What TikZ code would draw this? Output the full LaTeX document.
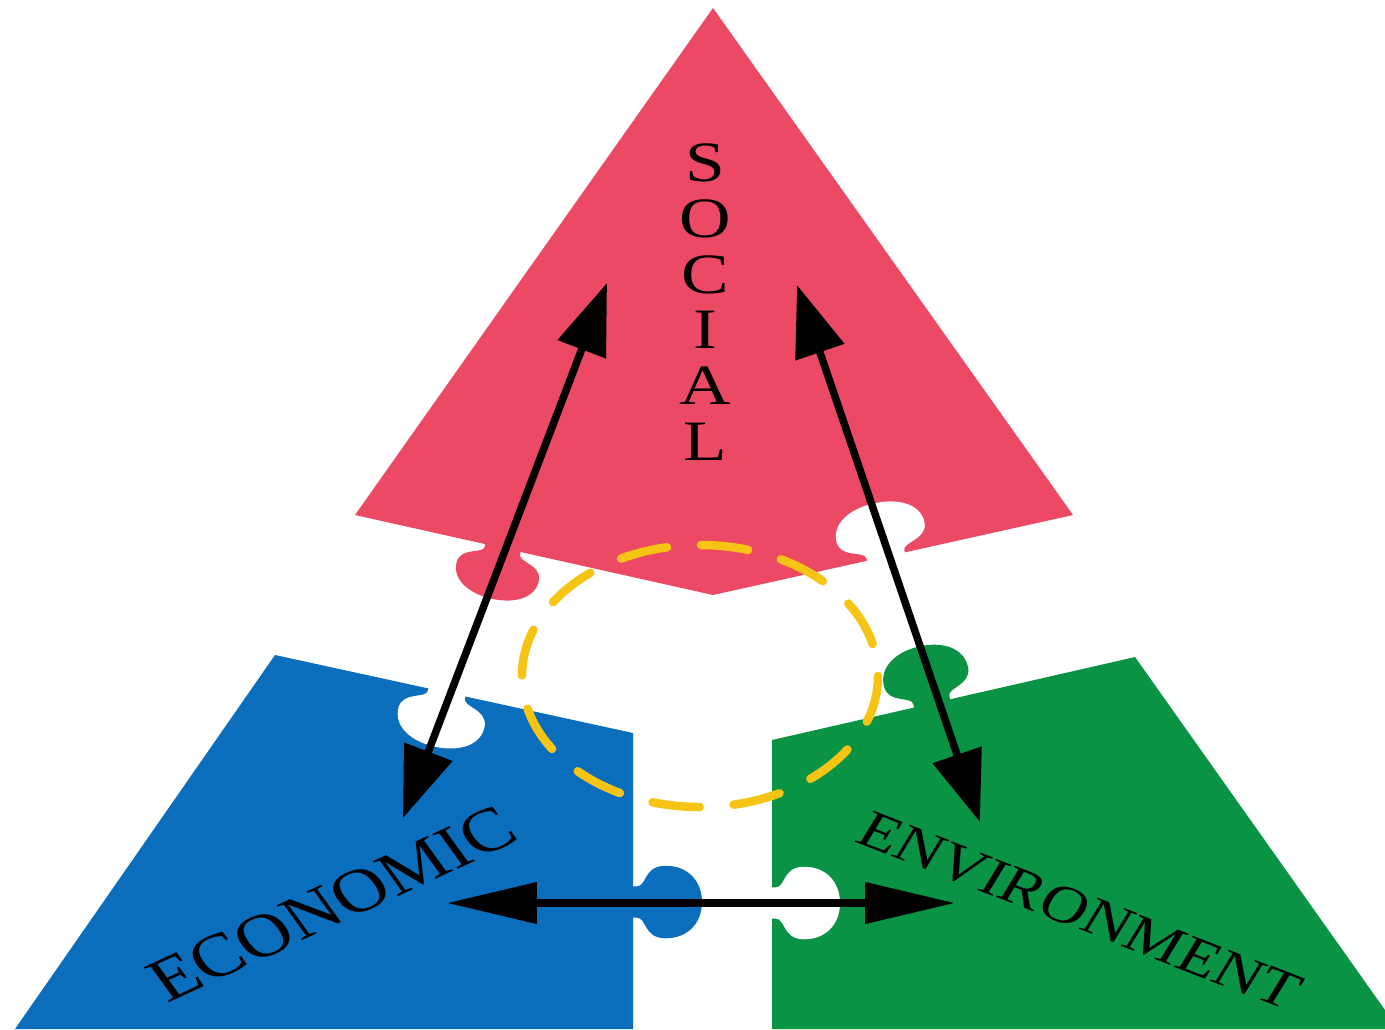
\documentclass[tikz,border=0pt]{standalone}
\usepackage{fontspec}
\setmainfont{Liberation Serif}
\usepackage{tikz}
\usetikzlibrary{arrows.meta}
\definecolor{SocialRed}{HTML}{EC4A64}
\definecolor{EconBlue}{HTML}{0A6EBD}
\definecolor{EnvGreen}{HTML}{0A9245}
\definecolor{RingYellow}{HTML}{F5C414}
\tikzset{
  knob/.pic={
    \fill (-0.42,-0.15) -- (-0.42,0.05)
      .. controls (-0.42,0.2) and (-0.95,0.15) .. (-0.98,0.45)
      .. controls (-1,0.8) and (-0.55,1) .. (0,1)
      .. controls (0.55,1) and (1,0.8) .. (0.98,0.45)
      .. controls (0.95,0.15) and (0.42,0.2) .. (0.42,0.05)
      -- (0.42,-0.15) -- cycle;
  }
}

\begin{document}
\begin{tikzpicture}[x=0.02cm, y=-0.02cm,
    slantlink/.style={line width=0.15cm, arrows={Triangle[length=1.42cm,width=1cm]-Triangle[length=1.42cm,width=1cm]}},
    flatlink/.style={line width=0.15cm, arrows={Triangle[length=1.8cm,width=0.8cm]-Triangle[length=1.8cm,width=0.8cm]}},
    ring/.style={RingYellow, line width=0.17cm, line cap=round, dash pattern=on 0.95cm off 0.68cm},
    piecetext/.style={inner sep=0pt, text=black, xscale=1.25}]
  \useasboundingbox (0,0) rectangle (1385,1029);
  % the three pieces
  \fill[SocialRed] (713,8) -- (1073,515) -- (713,595) -- (355,515) -- cycle;
  \fill[EconBlue] (275,655) -- (633,733) -- (633,1029) -- (15,1029) -- cycle;
  \fill[EnvGreen] (772,740) -- (1135,657) -- (1385,1010) -- (1385,1029) -- (772,1029) -- cycle;
  % tabs and holes
  \pic[color=SocialRed, rotate=-12.6, xscale=43, yscale=52] at (503,548) {knob};
  \pic[color=white, rotate=12.5, xscale=46, yscale=-55] at (886,557) {knob};
  \pic[color=white, rotate=-12.3, xscale=45, yscale=56] at (447,692) {knob};
  \pic[color=EconBlue, rotate=90, xscale=37, yscale=69] at (633,902) {knob};
  \pic[color=white, rotate=90, xscale=37, yscale=68] at (772,903) {knob};
  \pic[color=EnvGreen, rotate=12.9, xscale=44, yscale=-58] at (932,703) {knob};
  % dashed ring
  \draw[ring] (700,676) ellipse [x radius=178, y radius=131];
  % arrows
  \coordinate (soc-left) at (607,283);
  \coordinate (eco-top) at (403,818);
  \coordinate (soc-right) at (797,285);
  \coordinate (env-top) at (980,822);
  \coordinate (eco-right) at (447,903);
  \coordinate (env-left) at (955,903);
  \draw[slantlink] (soc-left) -- (eco-top);
  \draw[slantlink] (soc-right) -- (env-top);
  \draw[flatlink] (eco-right) -- (env-left);
  % labels
  \node[piecetext, align=center, font=\fontsize{32.5pt}{31.7pt}\selectfont] (social) at (705,302) {S\\O\\C\\I\\A\\L};
  \node[piecetext, rotate=30, font=\fontsize{35pt}{35pt}\selectfont] (economic) at (332,904) {ECONOMIC};
  \node[piecetext, rotate=-26, font=\fontsize{30pt}{30pt}\selectfont] (environment) at (1080,911) {ENVIRONMENT};
\end{tikzpicture}
\end{document}
